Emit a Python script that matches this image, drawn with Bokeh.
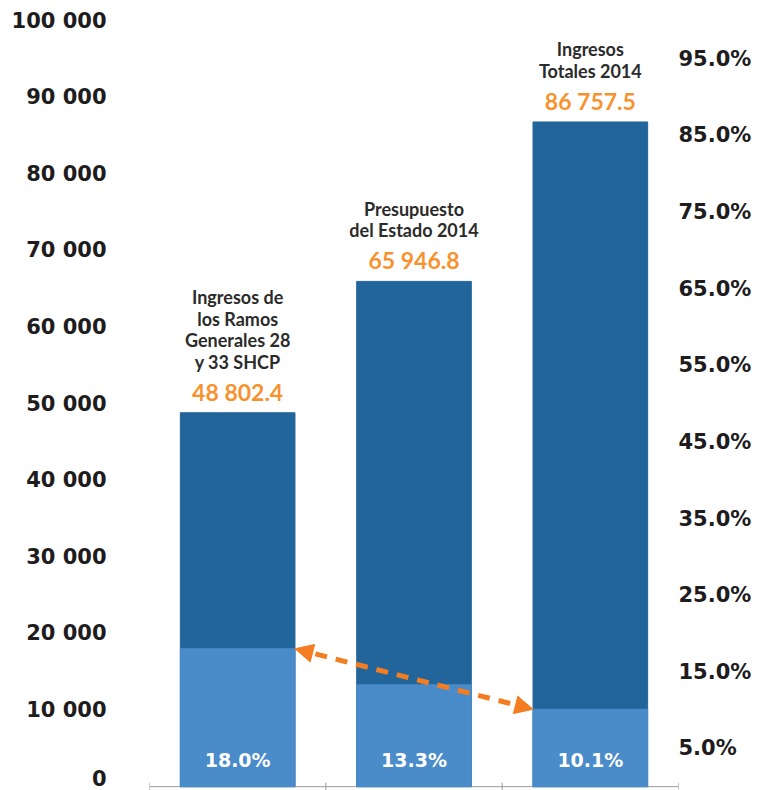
from bokeh.plotting import figure
from bokeh.models import (Range1d, LinearAxis, FixedTicker, ColumnDataSource,
                          Arrow, NormalHead)
from bokeh.core.properties import value
from bokeh.embed import file_html
from bokeh.resources import INLINE

# ---- data ----
categories = ["Ingresos de\nlos Ramos\nGenerales 28\ny 33 SHCP",
              "Presupuesto\ndel Estado 2014",
              "Ingresos\nTotales 2014"]
totals = [48802.4, 65946.8, 86757.5]
total_labels = ["48 802.4", "65 946.8", "86 757.5"]
shares = [18.0, 13.3, 10.1]
share_labels = ["18.0%", "13.3%", "10.1%"]
left_ticks = [0, 10000, 20000, 30000, 40000, 50000, 60000, 70000, 80000, 90000, 100000]
left_tick_labels = ["0", "10 000", "20 000", "30 000", "40 000", "50 000",
                    "60 000", "70 000", "80 000", "90 000", "100 000"]
right_ticks = [5, 15, 25, 35, 45, 55, 65, 75, 85, 95]
right_tick_labels = ["5.0%", "15.0%", "25.0%", "35.0%", "45.0%",
                     "55.0%", "65.0%", "75.0%", "85.0%", "95.0%"]

DARK = "#22659a"
LIGHT = "#4a8bc9"
ORANGE = "#f7922f"
ARROW = "#f47d22"
INK = "#1e1c1d"
AXIS_FONT = "DejaVu Sans"
BAR_W = 0.65
Y_PAD = 500  # small room below the baseline for the tick marks (value units)

xs = list(range(1, len(categories) + 1))
bounds = [x - 0.5 for x in xs] + [xs[-1] + 0.5]
src = ColumnDataSource(dict(x=xs, total=totals, share=shares, cat=categories,
                            tl=total_labels, sl=share_labels,
                            zero=[0] * len(xs)))

p = figure(frame_width=529, frame_height=770,
           x_range=Range1d(bounds[0], bounds[-1]),
           y_range=Range1d(-Y_PAD, left_ticks[-1]), output_backend="svg",
           toolbar_location=None, min_border_left=149, min_border_right=80,
           min_border_top=20, min_border_bottom=0)
p.extra_y_ranges = {"pct": Range1d(-Y_PAD / 1000, right_ticks[-1] + 5)}
p.outline_line_color = None
p.xgrid.visible = False
p.ygrid.visible = False
p.xaxis.visible = False
p.background_fill_color = "white"
p.border_fill_color = "white"

# baseline with category dividers
p.line(x=bounds, y=[0] * len(bounds), line_color="#9a9a9a", line_width=1)
p.scatter(x=bounds, y=[0] * len(bounds), marker="dash", angle=1.5708, size=8,
          line_color="#9a9a9a", line_width=1)

# bars
p.vbar(x="x", top="total", bottom=0, width=BAR_W, color=DARK, source=src)
p.vbar(x="x", top="share", bottom=0, width=BAR_W, color=LIGHT, source=src,
       y_range_name="pct")

# texts
p.text(x="x", y="total", text="tl", source=src, text_align="center",
       text_baseline="middle", y_offset=-21, text_color=ORANGE,
       text_font=value("Lato"), text_font_style="bold", text_font_size="23px")
p.text(x="x", y="total", text="cat", source=src, text_align="center",
       text_baseline="bottom", y_offset=-40, text_color="#2b2b2b",
       text_font=value("Lato"), text_font_style="bold", text_font_size="18px",
       text_line_height=0.98)
p.text(x="x", y="zero", text="sl", source=src, text_align="center",
       text_baseline="middle", y_offset=-27, text_color="white",
       text_font=value(AXIS_FONT), text_font_style="bold", text_font_size="19px")

# arrow between share tops
arr = Arrow(x_start=xs[0] + BAR_W / 2, y_start=shares[0],
            x_end=xs[2] - BAR_W / 2, y_end=shares[2], y_range_name="pct",
            line_color=ARROW, line_width=5, line_dash="12 9",
            start=NormalHead(size=18, fill_color=ARROW, line_color=ARROW),
            end=NormalHead(size=18, fill_color=ARROW, line_color=ARROW))
p.add_layout(arr)

# left axis
la = p.yaxis[0]
la.ticker = FixedTicker(ticks=left_ticks)
la.major_label_overrides = dict(zip(left_ticks, left_tick_labels))
la.axis_line_color = None
la.major_tick_line_color = None
la.minor_tick_line_color = None
la.major_label_standoff = 37
la.major_label_text_font = AXIS_FONT
la.major_label_text_font_style = "bold"
la.major_label_text_font_size = "21px"
la.major_label_text_color = INK

# right axis
ra = LinearAxis(y_range_name="pct", ticker=FixedTicker(ticks=right_ticks),
                major_label_overrides=dict(zip(right_ticks, right_tick_labels)))
ra.axis_line_color = None
ra.major_tick_line_color = None
ra.minor_tick_line_color = None
ra.major_label_standoff = -6
ra.major_label_text_font = AXIS_FONT
ra.major_label_text_font_style = "bold"
ra.major_label_text_font_size = "21px"
ra.major_label_text_color = INK
p.add_layout(ra, "right")

open("out.html", "w").write(file_html(p, INLINE))
